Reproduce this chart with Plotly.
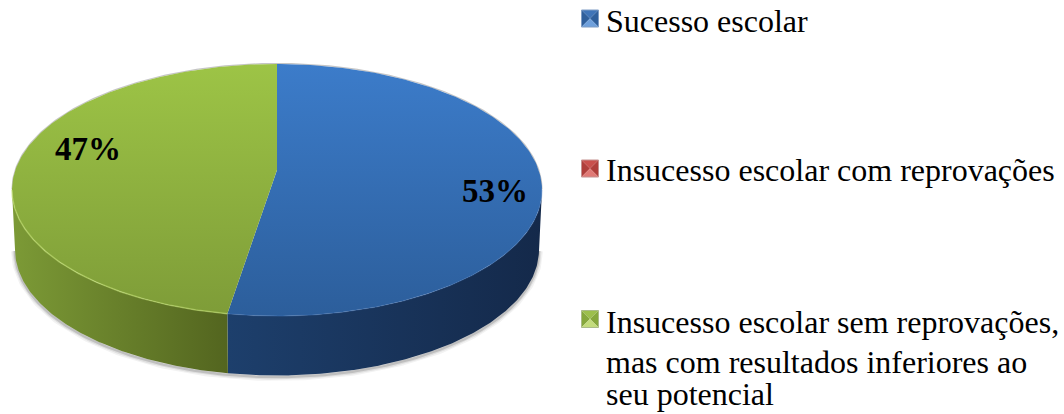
import numpy as np
import plotly.graph_objects as go

# chart data
categories = ["Sucesso escolar", "Insucesso escolar com reprovações", "Insucesso escolar sem reprovações"]
shares = [53, 0, 47]
legend_lines = [
    ["Sucesso escolar"],
    ["Insucesso escolar com reprovações"],
    ["Insucesso escolar sem reprovações,", "mas com resultados inferiores ao", "seu potencial"],
]
top_colors = [("#3c7cca", "#2c5e9b"), ("#c0504d", "#8f3a38"), ("#9dc446", "#7e9c38")]
side_colors = [("#1d3f6c", "#14294a"), ("#7a2f2d", "#5c2220"), ("#7c9a36", "#53651f")]
swatch_colors = [
    ("#6fa0dc", "#3f74b8", "#2f5f9c", "#7f9cc4"),
    ("#e07a76", "#c9504c", "#b03f3b", "#c49290"),
    ("#c3dc7c", "#9cbf4c", "#86a83c", "#aabb88"),
]

# pixel geometry of the pie
CX, CY, RX, RY = 277, 190, 265, 126
VX, VY = 277, 170
BX, BY, BRX, BRY = 277, 249.5, 262, 126


def on_top(a):
    return CX + RX * np.sin(a), CY - RY * np.cos(a)


def on_bottom(a):
    return BX + BRX * np.sin(a), BY - BRY * np.cos(a)


fig = go.Figure()

# soft shadow under the wall
arc = np.linspace(np.pi / 2, 3 * np.pi / 2, 200)
sx, sy = on_bottom(arc)
for w, alpha in [(8, 0.05), (5, 0.08), (2.5, 0.14)]:
    fig.add_trace(go.Scatter(x=sx, y=sy + 1.5, mode="lines", line=dict(color=f"rgba(0,0,0,{alpha})", width=w),
                             hoverinfo="skip", showlegend=False))

# back edge of the top face
back = np.linspace(-np.pi / 2, np.pi / 2, 200)
ex, ey = on_top(back)
fig.add_trace(go.Scatter(x=ex, y=ey - 0.5, mode="lines", line=dict(color="rgba(110,110,110,0.4)", width=1.2),
                         hoverinfo="skip", showlegend=False))

# slices, clockwise from 12 o'clock
start = 0.0
total = sum(shares)
for share, top_c, side_c, name in zip(shares, top_colors, side_colors, categories):
    if share == 0:
        continue
    end = start + 2 * np.pi * share / total
    a = np.linspace(start, end, 240)
    tx, ty = on_top(a)

    # outer wall, only the part facing the viewer
    lo, hi = max(start, np.pi / 2), min(end, 3 * np.pi / 2)
    if hi > lo:
        w = np.linspace(lo, hi, 160)
        x1, y1 = on_top(w)
        x2, y2 = on_bottom(w)
        wx = np.concatenate([x1, x2[::-1], x1[:1]])
        wy = np.concatenate([y1, y2[::-1], y1[:1]])
        fig.add_trace(go.Scatter(
            x=wx, y=wy, mode="lines", fill="toself", line=dict(width=0), hoverinfo="skip", showlegend=False,
            fillgradient=dict(type="horizontal", start=float(wx.min()), stop=float(wx.max()),
                              colorscale=[[0, side_c[0]], [1, side_c[1]]]),
        ))

    # top face
    fx = np.concatenate([[VX], tx, [VX]])
    fy = np.concatenate([[VY], ty, [VY]])
    fig.add_trace(go.Scatter(
        x=fx, y=fy, mode="lines", fill="toself", line=dict(width=0), name=name,
        showlegend=False, hoverinfo="name",
        fillgradient=dict(type="vertical", start=CY - RY, stop=CY + RY,
                          colorscale=[[0, top_c[0]], [1, top_c[1]]]),
    ))

    # lighter rim on the front edge
    if hi > lo:
        rx_, ry_ = on_top(np.linspace(lo, hi, 160))
        rim = "rgba(190,220,110,0.6)" if share == shares[2] else "rgba(70,120,190,0.3)"
        fig.add_trace(go.Scatter(x=rx_, y=ry_, mode="lines", line=dict(color=rim, width=1.5),
                                 hoverinfo="skip", showlegend=False))
    start = end

# percentage labels
pct_pos = [(495, 191), (None, None), (88, 149)]
annotations = []
for share, (px, py) in zip(shares, pct_pos):
    if share:
        annotations.append(dict(x=px, y=py, text=f"<b>{share}%</b>", showarrow=False,
                                font=dict(family="Liberation Serif", size=33, color="#000000")))

# legend, drawn by hand because of the wrapped last entry
legend_y = [[21], [170], [322, 362, 394]]
SWX, SWS = 590, 8.5
swatch_y = [18.5, 168.5, 319]
shapes = []
for lines, ys, sy_c, cols in zip(legend_lines, legend_y, swatch_y, swatch_colors):
    for line, y in zip(lines, ys):
        annotations.append(dict(x=604, y=y, text=line, showarrow=False, xanchor="left",
                                font=dict(family="Liberation Serif", size=32, color="#000000")))
    x0, x1, y0, y1 = SWX - SWS, SWX + SWS, sy_c - SWS, sy_c + SWS
    tris = [
        (cols[1], [(x0, y0), (x1, y0), (SWX, sy_c)]),
        (cols[2], [(x0, y0), (x0, y1), (SWX, sy_c)]),
        (cols[2], [(x1, y0), (x1, y1), (SWX, sy_c)]),
        (cols[0], [(x0, y1), (x1, y1), (SWX, sy_c)]),
    ]
    for color, pts in tris:
        path = "M " + " L ".join(f"{p[0]},{p[1]}" for p in pts) + " Z"
        shapes.append(dict(type="path", path=path, fillcolor=color, line=dict(width=0)))
    shapes.append(dict(type="rect", x0=x0, x1=x1, y0=y0, y1=y1, line=dict(color=cols[3], width=1)))

fig.update_layout(
    width=1064, height=414, margin=dict(l=0, r=0, t=0, b=0),
    paper_bgcolor="white", plot_bgcolor="white", showlegend=False,
    xaxis=dict(range=[0, 1064], visible=False, fixedrange=True),
    yaxis=dict(range=[414, 0], visible=False, fixedrange=True),
    annotations=annotations, shapes=shapes,
)

# page default body margin would push the figure 8px in
fig.write_html("out.html", config=dict(displayModeBar=False),
               post_script="document.body.style.margin='0';document.body.style.overflow='hidden';")
